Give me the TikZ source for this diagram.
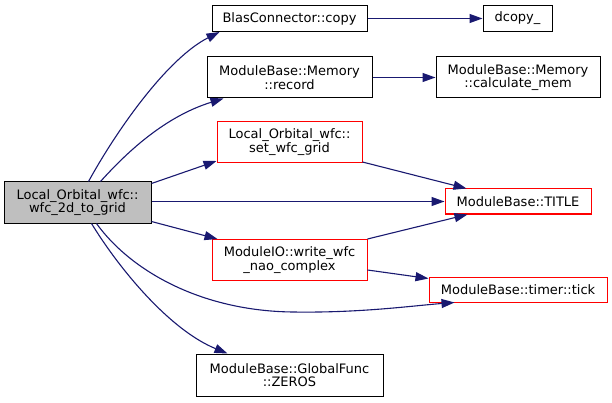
\documentclass[tikz,border=0pt]{standalone}
\usepackage{fontspec}
\setmainfont{DejaVu Sans}
\usetikzlibrary{arrows.meta,calc}
\definecolor{edgecol}{HTML}{191970}
\definecolor{maingray}{HTML}{BFBFBF}
\tikzset{
  fn/.style={draw=black, line width=1pt, inner sep=0pt, align=center,
    font=\fontsize{13}{13.5}\selectfont},
  fnred/.style={fn, draw=red},
  callarrow/.style={draw=edgecol, line width=1.1pt,
    -{Triangle[length=13pt,width=9pt]}},
}
\begin{document}
\begin{tikzpicture}[x=1pt,y=-1pt]
\useasboundingbox (0,0) rectangle (612,403);
% nodes (centre, width x height in px)
\node[fn, fill=maingray, minimum width=147pt, minimum height=41pt] (main) at (77.5,202.5) {Local\_Orbital\_wfc::\\wfc\_2d\_to\_grid};
\node[fn, minimum width=155pt, minimum height=26pt] (blas) at (289.5,18.5) {BlasConnector::copy};
\node[fn, minimum width=69pt, minimum height=26pt] (dcopy) at (517.5,18.5) {dcopy\_};
\node[fn, minimum width=165pt, minimum height=41pt] (record) at (289.5,77.5) {ModuleBase::Memory\\::record};
\node[fn, minimum width=164pt, minimum height=41pt] (calc) at (518,77.5) {ModuleBase::Memory\\::calculate\_mem};
\node[fnred, minimum width=145pt, minimum height=41pt] (setgrid) at (289.5,142) {Local\_Orbital\_wfc::\\set\_wfc\_grid};
\node[fnred, minimum width=146pt, minimum height=25pt] (title) at (518,201.5) {ModuleBase::TITLE};
\node[fnred, minimum width=155pt, minimum height=41pt] (write) at (289.5,260) {ModuleIO::write\_wfc\\\_nao\_complex};
\node[fnred, minimum width=178pt, minimum height=25pt] (tick) at (518,289.5) {ModuleBase::timer::tick};
\node[fn, minimum width=187pt, minimum height=42pt] (zeros) at (289.5,375) {ModuleBase::GlobalFunc\\::ZEROS};
% connectors
\draw[callarrow] ($(main.north west)+(85,0)$) .. controls (118,128) and (168,58) .. ($(blas.south west)+(8,0)$);
\draw[callarrow] ($(main.north west)+(97,0)$) .. controls (120,160) and (160,118) .. ($(record.south west)+(17,0)$);
\draw[callarrow] ($(main.north east)+(0,2)$) -- ($(setgrid.south west)+(0,-2)$);
\draw[callarrow] (main.east |- title.west) -- (title.west);
\draw[callarrow] ($(main.south east)+(0,-2)$) -- ($(write.north west)+(6,0)$);
\draw[callarrow] ($(main.south west)+(93,0)$) .. controls (130,270) and (200,311) .. (293,312) .. controls (360,313) and (410,306) .. ($(tick.south west)+(26,0)$);
\draw[callarrow] ($(main.south west)+(88,0)$) .. controls (120,270) and (170,330) .. ($(zeros.north west)+(32,0)$);
\draw[callarrow] ($(setgrid.south east)+(0,-1)$) -- ($(title.north west)+(22,0)$);
\draw[callarrow] (write.north east) -- ($(title.south west)+(23,0)$);
\draw[callarrow] ($(write.east)+(0,10)$) -- ($(tick.west)+(0,-11)$);
\draw[callarrow] (blas.east) -- (dcopy.west);
\draw[callarrow] (record.east) -- (calc.west);
\end{tikzpicture}
\end{document}
